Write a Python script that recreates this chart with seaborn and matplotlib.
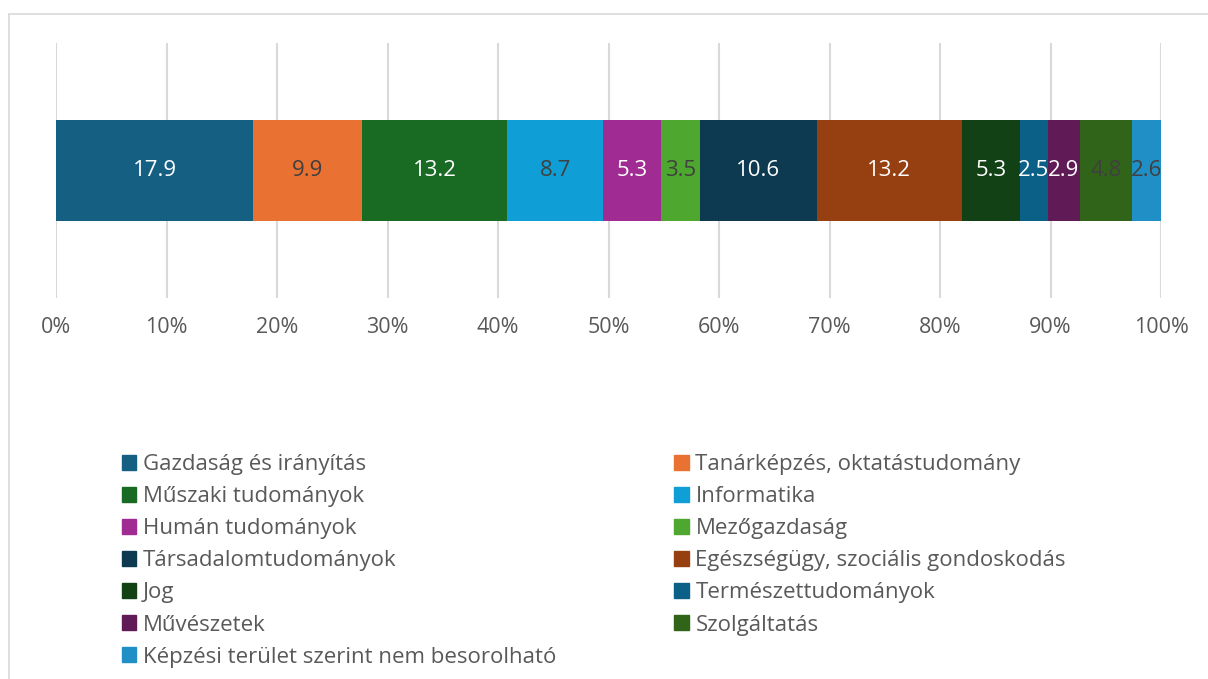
import matplotlib
matplotlib.use("Agg")
import matplotlib.pyplot as plt
import matplotlib.patches as mpatches
from matplotlib.lines import Line2D
import seaborn as sns
import pandas as pd
import numpy as np

categories = [
    "Gazdaság és irányítás",
    "Tanárképzés, oktatástudomány",
    "Műszaki tudományok",
    "Informatika",
    "Humán tudományok",
    "Mezőgazdaság",
    "Társadalomtudományok",
    "Egészségügy, szociális gondoskodás",
    "Jog",
    "Természettudományok",
    "Művészetek",
    "Szolgáltatás",
    "Képzési terület szerint nem besorolható",
]
values = [17.9, 9.9, 13.2, 8.7, 5.3, 3.5, 10.6, 13.2, 5.3, 2.5, 2.9, 4.8, 2.6]
colors = ["#156082", "#E97132", "#196B24", "#0F9ED5", "#A02B93", "#4EA72E",
          "#0D3A50", "#964011", "#124116", "#0A6086", "#601A56", "#306419",
          "#208FC5"]
label_colors = ["white", "#404040", "white", "#404040", "white", "#404040",
                "white", "white", "white", "white", "white", "#404040", "#404040"]
tick_labels = ["0%", "10%", "20%", "30%", "40%", "50%", "60%", "70%", "80%", "90%", "100%"]

sns.set_theme(style="white")
plt.rcParams["font.family"] = ["Open Sans", "DejaVu Sans"]

total = sum(values)
shares = np.array(values) / total
ends = np.cumsum(shares)
starts = ends - shares

df = pd.DataFrame({"cat": categories, "end": ends, "start": starts,
                   "val": values, "row": ["r"] * len(values)})

fig = plt.figure(figsize=(12.08, 6.79), dpi=100)
ax = fig.add_axes([56 / 1208, 1 - 298 / 679, (1161 - 56) / 1208, (298 - 43) / 679])

# draw cumulative bars from the right-most end first
for i in reversed(range(len(categories))):
    sub = df.iloc[[i]]
    sns.barplot(data=sub, x="end", y="row", orient="h", color=colors[i],
                width=0.396, saturation=1, ax=ax, zorder=3, linewidth=0)

for i, row in df.iterrows():
    ax.text((row["start"] + row["end"]) / 2, 0, f"{row['val']:.1f}",
            ha="center", va="center", color=label_colors[i], fontsize=16, zorder=5)

ax.set_xlim(0, 1)
ax.set_ylim(0.5, -0.5)
ax.set_xticks(np.linspace(0, 1, 11))
ax.set_xticklabels(tick_labels, fontsize=15.5, color="#595959")
ax.tick_params(axis="x", length=0, pad=14)
ax.set_yticks([])
ax.set_xlabel("")
ax.set_ylabel("")
ax.grid(axis="x", color="#D9D9D9", linewidth=1.5, zorder=0)
for s in ax.spines.values():
    s.set_visible(False)

# outer frame lines
fig.add_artist(Line2D([9 / 1208, 1.0], [1 - 14 / 679, 1 - 14 / 679],
                      transform=fig.transFigure, color="#D9D9D9", linewidth=1.2))
fig.add_artist(Line2D([9 / 1208, 9 / 1208], [0, 1 - 14 / 679],
                      transform=fig.transFigure, color="#D9D9D9", linewidth=1.2))

handles = [mpatches.Patch(color=c, label=l) for c, l in zip(colors, categories)]
order = [0, 2, 4, 6, 8, 10, 12, 1, 3, 5, 7, 9, 11]
fig.legend([handles[k] for k in order], [categories[k] for k in order],
           ncol=2, loc="upper left", bbox_to_anchor=(122 / 1208, 1 - 454 / 679),
           frameon=False, fontsize=16, labelcolor="#595959",
           handlelength=0.65, handleheight=0.65, handletextpad=0.3,
           columnspacing=5.3, labelspacing=0.5, borderaxespad=0, borderpad=0)

fig.savefig("out.png", dpi=100)
